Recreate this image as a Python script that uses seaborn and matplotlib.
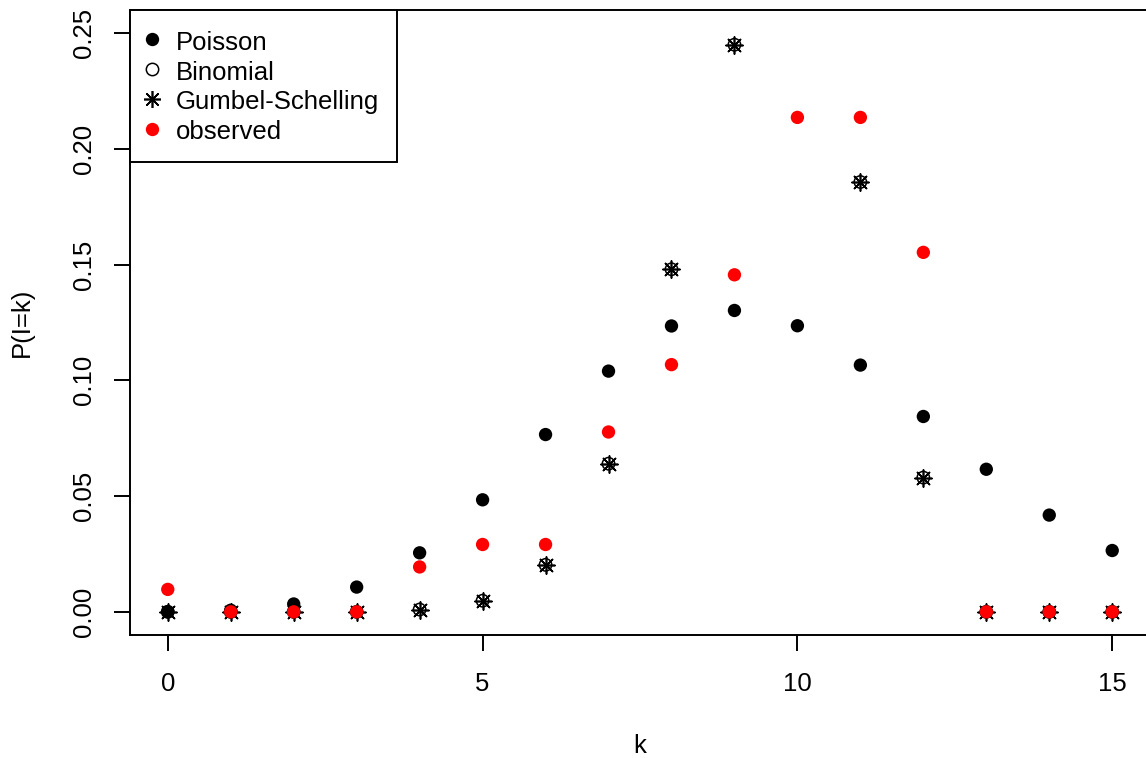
import numpy as np
import pandas as pd
import matplotlib
matplotlib.use("Agg")
import matplotlib.pyplot as plt
from matplotlib.lines import Line2D
import seaborn as sns

# number of events k and the probabilities P(I = k)
k = list(range(16))
poisson = [0.0001, 0.0007, 0.0034, 0.0107, 0.0255, 0.0484, 0.0766, 0.1040,
           0.1235, 0.1302, 0.1236, 0.1066, 0.0844, 0.0616, 0.0418, 0.0265]
binomial = [0.0, 0.0, 0.0, 0.0, 0.0010, 0.0048, 0.0203, 0.0640,
            0.1480, 0.2450, np.nan, 0.1857, 0.0580, 0.0, 0.0, 0.0]
gumbel_schelling = [0.0, 0.0, 0.0, 0.0, 0.0010, 0.0048, 0.0203, 0.0640,
                    0.1480, 0.2450, np.nan, 0.1857, 0.0580, 0.0, 0.0, 0.0]
observed = [0.0097, 0.0, 0.0, 0.0, 0.0194, 0.0291, 0.0291, 0.0777,
            0.1068, 0.1456, 0.2136, 0.2136, 0.1553, 0.0, 0.0, 0.0]

series_names = ["Poisson", "Binomial", "Gumbel-Schelling", "observed"]
x_ticks = [0, 5, 10, 15]
y_ticks = [0.00, 0.05, 0.10, 0.15, 0.20, 0.25]

df = pd.DataFrame({"k": k, "poisson": poisson, "binomial": binomial,
                   "gumbel": gumbel_schelling, "observed": observed})

sns.set_style("white")
plt.rcParams["font.family"] = ["Liberation Sans", "DejaVu Sans"]
plt.rcParams["text.color"] = "black"
plt.rcParams["axes.labelcolor"] = "black"
plt.rcParams["xtick.color"] = "black"
plt.rcParams["ytick.color"] = "black"

FS = 18.5
W, H = 1146, 758
fig = plt.figure(figsize=(W / 100, H / 100), dpi=100)
# plot region: left edge 130 px, bottom 635 px, top 10 px; right side runs past the frame
ax = fig.add_axes([130 / W, (H - 635) / H, 1020 / W, 625 / H])

# marker sizes (points) shared by the plot and the legend
DOT, RING, STAR = 9.6, 8.9, 12.2
lw = 1.4
sns.scatterplot(data=df, x="k", y="poisson", ax=ax, marker="o", s=DOT ** 2,
                color="black", edgecolor="none", legend=False, zorder=3)
sns.scatterplot(data=df, x="k", y="binomial", ax=ax, marker="o", s=RING ** 2,
                facecolor="none", edgecolor="black", linewidth=1.1,
                legend=False, zorder=4)
sns.scatterplot(data=df, x="k", y="gumbel", ax=ax, marker=(8, 2, 0), s=STAR ** 2,
                color="black", linewidth=1.2, legend=False, zorder=5)
sns.scatterplot(data=df, x="k", y="observed", ax=ax, marker="o", s=DOT ** 2,
                color="#ff0000", edgecolor="none", legend=False, zorder=6)

ax.set_xlim(-0.6, 15.6)
ax.set_ylim(-0.01, 0.26)
ax.set_xticks(x_ticks)
ax.set_xticklabels([str(t) for t in x_ticks])
ax.set_yticks(y_ticks)
ax.set_yticklabels([f"{t:.2f}" for t in y_ticks], rotation=90, va="center")

ax.tick_params(axis="both", direction="out", length=11.5, width=lw,
               labelsize=FS, color="black", labelcolor="black",
               bottom=True, left=True, top=False, right=False)
ax.tick_params(axis="x", pad=15)
ax.tick_params(axis="y", pad=13)

for sp in ax.spines.values():
    sp.set_visible(True)
    sp.set_linewidth(lw)
    sp.set_color("black")

ax.set_xlabel("k", fontsize=FS, va="baseline")
ax.xaxis.set_label_coords(0.5, (635 - 753) / 625)
ax.set_ylabel("P(I=k)", fontsize=FS, va="center")
ax.yaxis.set_label_coords((22 - 130) / 1020, 0.5)

handles = [
    Line2D([], [], linestyle="none", marker="o", markersize=DOT,
           markerfacecolor="black", markeredgecolor="none"),
    Line2D([], [], linestyle="none", marker="o", markersize=RING,
           markerfacecolor="none", markeredgecolor="black", markeredgewidth=1.1),
    Line2D([], [], linestyle="none", marker=(8, 2, 0), markersize=STAR,
           color="black", markeredgewidth=1.2),
    Line2D([], [], linestyle="none", marker="o", markersize=DOT,
           markerfacecolor="#ff0000", markeredgecolor="none"),
]
leg = ax.legend(handles, series_names, loc="upper left", bbox_to_anchor=(0, 1),
                borderaxespad=0, fontsize=FS, frameon=True, fancybox=False,
                framealpha=1, edgecolor="black", borderpad=0.7,
                labelspacing=0.13, handleheight=1.17, handlelength=0.33,
                handletextpad=0.74)
leg.get_frame().set_linewidth(lw)
leg.set_zorder(10)
for t in leg.get_texts():
    t.set_color("black")

fig.savefig("out.png", dpi=100, facecolor="white")
